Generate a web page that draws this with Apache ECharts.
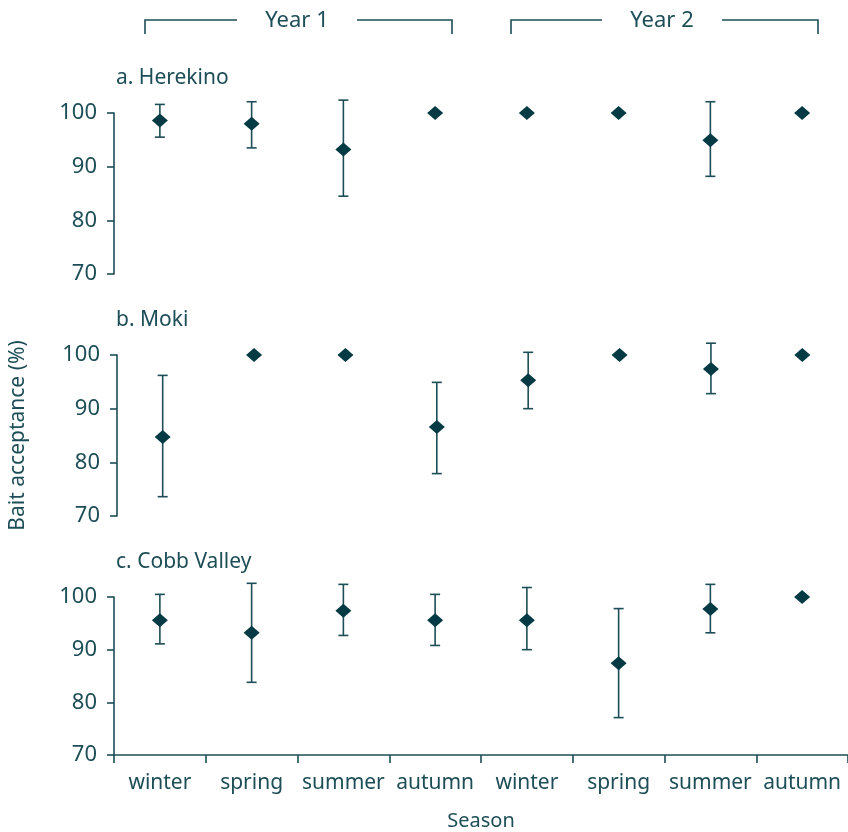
<!DOCTYPE html>
<html>
<head>
<meta charset="utf-8">
<script src="https://cdn.jsdelivr.net/npm/echarts@6/dist/echarts.min.js"></script>
<style>
  html, body { margin: 0; padding: 0; background: #fff; }
  #chart { width: 848px; height: 832px; }
</style>
</head>
<body>
<div id="chart"></div>
<script>
// data
var seasons = ["winter", "spring", "summer", "autumn", "winter", "spring", "summer", "autumn"];
var sites = ["a. Herekino", "b. Moki", "c. Cobb Valley"];
var yTicks = [70, 80, 90, 100];

var herekinoMean = [98.6, 98.0, 93.2, 100, 100, 100, 94.9, 100];
var herekinoLow  = [95.5, 93.5, 84.5, null, null, null, 88.2, null];
var herekinoHigh = [101.6, 102.1, 102.4, null, null, null, 102.1, null];

var mokiMean = [84.7, 100, 100, 86.6, 95.3, 100, 97.4, 100];
var mokiLow  = [73.6, null, null, 77.9, 90.0, null, 92.8, null];
var mokiHigh = [96.2, null, null, 94.9, 100.5, null, 102.2, null];

var cobbMean = [95.6, 93.2, 97.4, 95.6, 95.6, 87.4, 97.7, 100];
var cobbLow  = [91.1, 83.8, 92.7, 90.8, 90.0, 77.1, 93.2, null];
var cobbHigh = [100.5, 102.6, 102.4, 100.5, 101.8, 97.8, 102.4, null];

var means = [herekinoMean, mokiMean, cobbMean];
var lows = [herekinoLow, mokiLow, cobbLow];
var highs = [herekinoHigh, mokiHigh, cobbHigh];

var ink = "#1d4d56";
var dark = "#033a43";
var font = "Noto Sans";

var chart = echarts.init(document.getElementById("chart"));

var gridTops = [113, 355, 597];
var grids = [], xAxes = [], yAxes = [], series = [], titles = [];

function errorItem(params, api) {
  var x = api.value(0);
  var lo = api.coord([x, api.value(1)]);
  var hi = api.coord([x, api.value(2)]);
  var w = 5;
  var style = { stroke: ink, lineWidth: 1.6 };
  return {
    type: "group",
    children: [
      { type: "line", shape: { x1: lo[0], y1: lo[1], x2: hi[0], y2: hi[1] }, style: style },
      { type: "line", shape: { x1: lo[0] - w, y1: lo[1], x2: lo[0] + w, y2: lo[1] }, style: style },
      { type: "line", shape: { x1: hi[0] - w, y1: hi[1], x2: hi[0] + w, y2: hi[1] }, style: style }
    ]
  };
}

for (var i = 0; i < 3; i++) {
  var last = i === 2;
  grids.push({ left: 114, right: 0, top: gridTops[i], height: 161 });
  titles.push({
    text: sites[i], left: 111, top: gridTops[i] - 50,
    textStyle: { fontFamily: font, fontSize: 21, fontWeight: "normal", color: ink }
  });
  xAxes.push({
    type: "category", gridIndex: i, data: seasons, boundaryGap: true,
    show: last,
    name: last ? "Season" : "", nameLocation: "middle", nameGap: 56,
    nameTextStyle: { fontFamily: font, fontSize: 20, color: ink },
    axisLine: { lineStyle: { color: ink, width: 1.6 } },
    axisTick: { show: true, length: 8, alignWithLabel: false, lineStyle: { color: ink, width: 1.6 } },
    axisLabel: { margin: 18, fontFamily: font, fontSize: 21, color: ink, interval: 0 },
    splitLine: { show: false }
  });
  yAxes.push({
    type: "value", gridIndex: i, min: yTicks[0], max: yTicks[yTicks.length - 1], interval: 10,
    name: i === 1 ? "Bait acceptance (%)" : "", nameLocation: "middle", nameGap: 88,
    nameTextStyle: { fontFamily: font, fontSize: 21, color: ink },
    axisLine: { show: true, lineStyle: { color: ink, width: 1.6 } },
    axisTick: { show: true, length: 7, lineStyle: { color: ink, width: 1.6 } },
    axisLabel: { margin: 17, fontFamily: font, fontSize: 22, color: ink },
    splitLine: { show: false }
  });
  var errData = [];
  for (var k = 0; k < seasons.length; k++) {
    if (lows[i][k] != null) errData.push([k, lows[i][k], highs[i][k]]);
  }
  series.push({
    type: "custom", xAxisIndex: i, yAxisIndex: i, clip: false,
    renderItem: errorItem, data: errData, z: 2
  });
  series.push({
    type: "scatter", xAxisIndex: i, yAxisIndex: i, clip: false,
    symbol: "diamond", symbolSize: [16, 14],
    itemStyle: { color: dark, opacity: 1 },
    data: means[i].map(function (v, k) { return [k, v]; }), z: 3
  });
}

// year brackets along the top
var brackets = [
  { label: "Year 1", x1: 145, x2: 452, cx: 297 },
  { label: "Year 2", x1: 511, x2: 818, cx: 662 }
];
var graphic = [];
brackets.forEach(function (b) {
  var gap = 60;
  graphic.push({
    type: "polyline", silent: true,
    shape: { points: [[b.x1, 34], [b.x1, 20], [b.cx - gap, 20]] },
    style: { stroke: ink, lineWidth: 1.6, fill: null }
  });
  graphic.push({
    type: "polyline", silent: true,
    shape: { points: [[b.cx + gap, 20], [b.x2, 20], [b.x2, 34]] },
    style: { stroke: ink, lineWidth: 1.6, fill: null }
  });
  graphic.push({
    type: "text", silent: true, x: b.cx, y: 21,
    style: { text: b.label, fontFamily: font, fontSize: 22, fill: ink, align: "center", verticalAlign: "middle" }
  });
});

chart.setOption({
  animation: false,
  backgroundColor: "#fff",
  title: titles,
  grid: grids,
  xAxis: xAxes,
  yAxis: yAxes,
  series: series,
  graphic: graphic
});
</script>
</body>
</html>
